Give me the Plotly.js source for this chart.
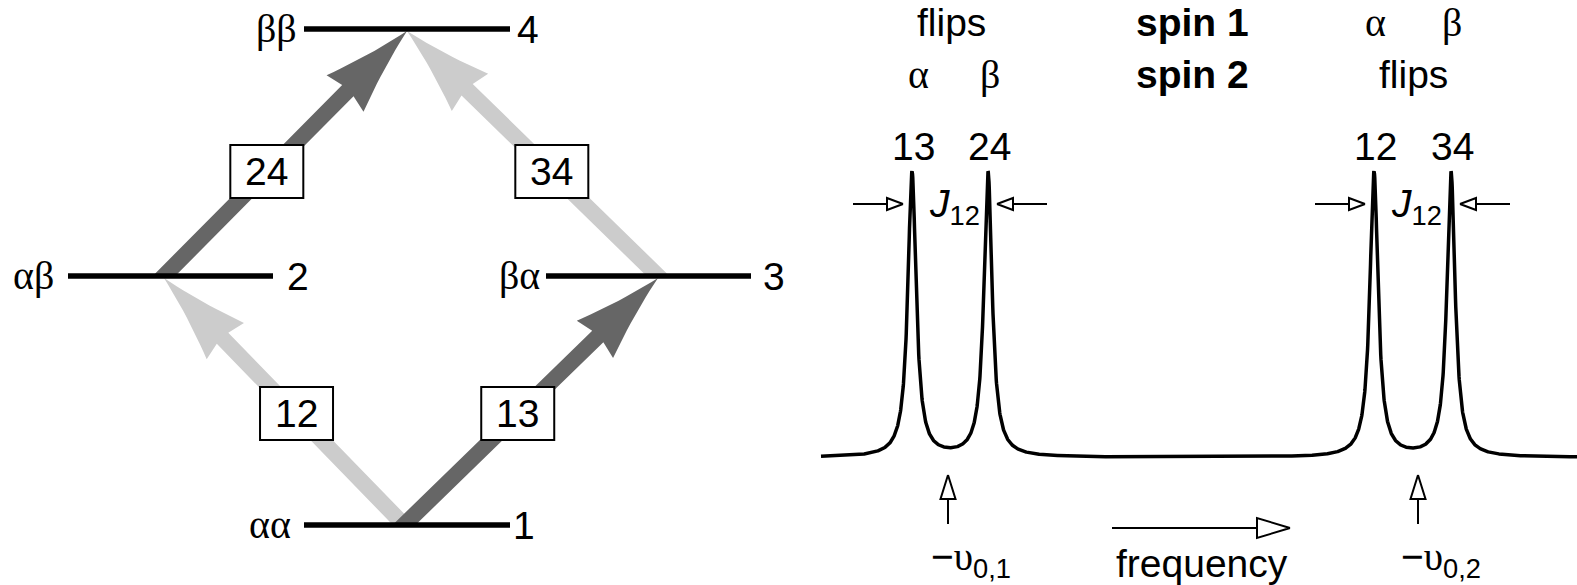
<!DOCTYPE html>
<html><head><meta charset="utf-8">
<script src="https://cdn.plot.ly/plotly-3.0.1.min.js"></script>
<style>html,body{margin:0;padding:0;background:#fff;overflow:hidden}</style>
</head><body><div id="chart" style="width:1577px;height:585px"></div>
<script>
// ---------------- data ----------------
// energy levels (index 0..3 = levels 1..4)
const levelNames   = ['αα', 'αβ', 'βα', 'ββ'];
const levelNumbers = ['1', '2', '3', '4'];
// transitions between levels
const transLabels = ['12', '13', '24', '34'];
const transFrom   = [0, 0, 1, 2];
const transTo     = [1, 2, 3, 3];
const transShade  = ['light', 'dark', 'dark', 'light'];
// spectrum lines (Lorentzian peaks)
const peakLabels    = ['13', '24', '12', '34'];
const peakPos       = [912, 988, 1374, 1451];
const peakHeight    = [285, 285, 285, 285];
const peakHalfWidth = [5, 5, 5, 5];
// chemical shifts
const shiftLabels = ['−<span style="font-family:Liberation Serif">υ</span><sub>0,1</sub>',
                     '−<span style="font-family:Liberation Serif">υ</span><sub>0,2</sub>'];
const shiftPos = [948, 1418];
// header texts
const headerTexts = ['flips', 'α', 'β', '<b>spin 1</b>', '<b>spin 2</b>', 'α', 'β', 'flips'];
const headerSerif = [false, true, true, false, false, true, true, false];

// ---------------- layout geometry ----------------
const W = 1577, H = 585;
const levelY     = [525, 276, 276, 29];
const levelX0    = [304, 68, 546, 304];
const levelX1    = [510, 273, 751, 510];
const levelJx    = [404, 164, 658, 407];
const levelNameX = [270, 33, 519, 276];
const levelNumX  = [524, 298, 774, 528];
const boxY = [413.5, 413.5, 171.5, 171.5];
const boxW = 73, boxH = 53;
const headerX = [951, 918, 990, 1192, 1192, 1375, 1452, 1413];
const headerY = [22, 74, 74, 22, 74, 22, 22, 74];
const baseline = 457.5, specStart = 821, specEnd = W;
const shades = {dark: '#666666', light: '#cccccc'};
const SANS = 'Liberation Sans, Arial, sans-serif';
const SERIF = 'Liberation Serif, Times New Roman, serif';
const FS = 39;

const traces = [];
const shapes = [];
const annotations = [];

function ann(x, y, text, size, family, extra) {
  annotations.push(Object.assign({x: x, y: y, xref: 'x', yref: 'y', text: text, showarrow: false,
    xanchor: 'center', yanchor: 'middle', font: {size: size, family: family, color: 'black'}}, extra || {}));
}

// ---------------- transition arrows ----------------
function thickArrow(x0, y0, x1, y1, color) {
  const dx = x1 - x0, dy = y1 - y0, len = Math.hypot(dx, dy);
  const d = [dx / len, dy / len], n = [-d[1], d[0]];
  const h = 8, L = 88, Wd = 26, b = 4;
  const add = (p, v, s) => [p[0] + v[0] * s, p[1] + v[1] * s];
  const tip = [x1, y1];
  const B = add(tip, d, -L);
  const startPt = (s) => { const t = -s * n[1] / d[1]; return add(add([x0, y0], n, s), d, t); };
  const bez = (a, c, e, t) => [(1 - t) * (1 - t) * a[0] + 2 * t * (1 - t) * c[0] + t * t * e[0],
                               (1 - t) * (1 - t) * a[1] + 2 * t * (1 - t) * c[1] + t * t * e[1]];
  const pts = [];
  pts.push(startPt(h));
  pts.push(add(add(B, n, h), d, b));
  const wingL = add(B, n, Wd);
  pts.push(wingL);
  const ctrlL = add(add(tip, d, -0.5 * L), n, 0.36 * Wd);
  for (let i = 1; i < 12; i++) pts.push(bez(wingL, ctrlL, tip, i / 12));
  pts.push(tip);
  const wingR = add(B, n, -Wd);
  const ctrlR = add(add(tip, d, -0.5 * L), n, -0.36 * Wd);
  for (let i = 11; i >= 1; i--) pts.push(bez(wingR, ctrlR, tip, i / 12));
  pts.push(wingR);
  pts.push(add(add(B, n, -h), d, b));
  pts.push(startPt(-h));
  pts.push(pts[0]);
  traces.push({type: 'scatter', mode: 'lines', x: pts.map(p => p[0]), y: pts.map(p => p[1]),
    fill: 'toself', fillcolor: color, line: {width: 0, color: color}, hoverinfo: 'skip'});
}

const order = [0, 3, 1, 2]; // light first, dark on top
order.forEach(i => {
  const a = transFrom[i], c = transTo[i];
  thickArrow(levelJx[a], levelY[a], levelJx[c], levelY[c] + 2, shades[transShade[i]]);
});

// ---------------- levels ----------------
const lx = [], ly = [];
for (let i = 0; i < levelNames.length; i++) {
  lx.push(levelX0[i], levelX1[i], null);
  ly.push(levelY[i], levelY[i], null);
  ann(levelNameX[i], levelY[i] - 1, levelNames[i], 40, SERIF);
  ann(levelNumX[i], levelY[i], levelNumbers[i], FS, SANS);
}
traces.push({type: 'scatter', mode: 'lines', x: lx, y: ly, line: {color: 'black', width: 5.5}, hoverinfo: 'skip'});

// ---------------- transition boxes ----------------
for (let i = 0; i < transLabels.length; i++) {
  const a = transFrom[i], c = transTo[i];
  const t = (boxY[i] - levelY[a]) / (levelY[c] - levelY[a]);
  const cx = levelJx[a] + t * (levelJx[c] - levelJx[a]);
  shapes.push({type: 'rect', xref: 'x', yref: 'y', x0: cx - boxW / 2, x1: cx + boxW / 2,
    y0: boxY[i] - boxH / 2, y1: boxY[i] + boxH / 2, line: {color: 'black', width: 2},
    fillcolor: 'white', layer: 'above'});
  ann(cx, boxY[i], transLabels[i], FS, SANS);
}

// ---------------- spectrum ----------------
const sx = [], sy = [];
for (let x = specStart; x <= specEnd; x += 0.25) {
  let s = 0;
  for (let k = 0; k < peakPos.length; k++) {
    const u = (x - peakPos[k]) / peakHalfWidth[k];
    s += peakHeight[k] / (1 + u * u);
  }
  sx.push(x); sy.push(baseline - s);
}
traces.push({type: 'scatter', mode: 'lines', x: sx, y: sy, line: {color: 'black', width: 3.5}, hoverinfo: 'skip'});

peakLabels.forEach((lab, k) => ann(peakPos[k] + 1, 146, lab, FS, SANS));

// open-headed thin arrows
function openArrow(xt, yt, xh, yh, hl, hw) {
  const dx = xh - xt, dy = yh - yt, len = Math.hypot(dx, dy);
  const d = [dx / len, dy / len], n = [-d[1], d[0]];
  const bx = xh - d[0] * hl, by = yh - d[1] * hl;
  traces.push({type: 'scatter', mode: 'lines', x: [xt, bx], y: [yt, by], line: {color: 'black', width: 2}, hoverinfo: 'skip'});
  traces.push({type: 'scatter', mode: 'lines', x: [xh, bx + n[0] * hw, bx - n[0] * hw, xh],
    y: [yh, by + n[1] * hw, by - n[1] * hw, yh], fill: 'toself', fillcolor: 'white',
    line: {color: 'black', width: 2, join: 'miter'}, hoverinfo: 'skip'});
}

// J12 markers
for (let p = 0; p < 2; p++) {
  const l = peakPos[2 * p], r = peakPos[2 * p + 1];
  openArrow(l - 59, 204, l - 9, 204, 16, 6);
  openArrow(r + 59, 204, r + 9, 204, 16, 6);
  ann((l + r) / 2 + 4, 206, '<i>J</i><sub>12</sub>', FS, SANS);
}
// chemical shift markers
shiftPos.forEach((x, k) => {
  openArrow(x, 524, x, 475, 24, 7.5);
  ann(x + 23, 559, shiftLabels[k], FS, SANS);
});
// frequency arrow
openArrow(1112, 528, 1290, 528, 33, 10);
ann(1202, 563, 'frequency', FS, SANS);

// headers
headerTexts.forEach((t, i) => ann(headerX[i], headerY[i], t, headerSerif[i] ? 40 : FS, headerSerif[i] ? SERIF : SANS));

const layout = {
  width: W, height: H, margin: {l: 0, r: 0, t: 0, b: 0, pad: 0},
  xaxis: {range: [0, W], visible: false, fixedrange: true},
  yaxis: {range: [H, 0], visible: false, fixedrange: true},
  showlegend: false, paper_bgcolor: 'white', plot_bgcolor: 'white',
  shapes: shapes, annotations: annotations
};
Plotly.newPlot('chart', traces, layout, {displayModeBar: false, staticPlot: true});
</script></body></html>
